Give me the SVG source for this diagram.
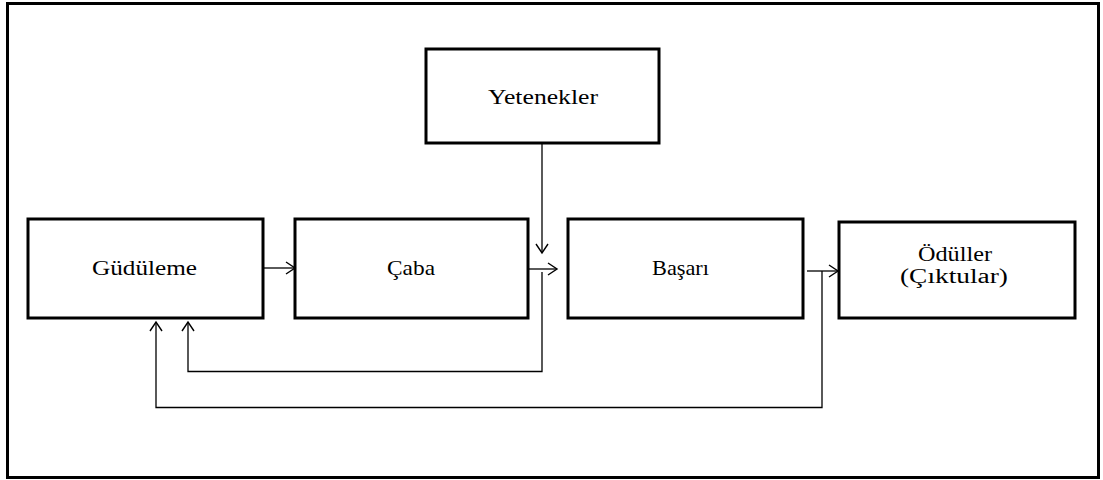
<svg xmlns="http://www.w3.org/2000/svg" width="1103" height="480" viewBox="0 0 1103 480">
<style>
.box{fill:#fff;stroke:#000;stroke-width:3}
.ln{fill:none;stroke:#000;stroke-width:1.3}
.t{font-family:"Liberation Serif","Times New Roman",serif;font-size:22px;fill:#000;text-anchor:middle}
.t2{font-size:20px}
</style>
<defs>
<marker id="ah" markerUnits="userSpaceOnUse" markerWidth="12" markerHeight="14" refX="10" refY="7" orient="auto">
<path d="M1,1 L10,7 L1,13" fill="none" stroke="#000" stroke-width="1.4"/>
</marker>
</defs>
<rect x="0" y="0" width="1103" height="480" fill="#fff"/>
<rect x="7.5" y="3.5" width="1091" height="474" fill="none" stroke="#000" stroke-width="3"/>
<g id="yetenekler"><rect class="box" x="426" y="49" width="233" height="94"/><text class="t" x="543" y="104" textLength="110" lengthAdjust="spacingAndGlyphs">Yetenekler</text></g>
<g id="gudulem"><rect class="box" x="28" y="219" width="235" height="99"/><text class="t" x="144.5" y="275" textLength="105" lengthAdjust="spacingAndGlyphs">Güdüleme</text></g>
<g id="caba"><rect class="box" x="295" y="219" width="233" height="99"/><text class="t" x="411" y="275" textLength="48" lengthAdjust="spacingAndGlyphs">Çaba</text></g>
<g id="basari"><rect class="box" x="568" y="219" width="235" height="99"/><text class="t" x="680.5" y="275" textLength="57" lengthAdjust="spacingAndGlyphs">Başarı</text></g>
<g id="oduller"><rect class="box" x="839" y="222" width="236" height="96"/><text class="t t2" x="955" y="261" textLength="74" lengthAdjust="spacingAndGlyphs">Ödüller</text><text class="t t2" x="954" y="283" textLength="108" lengthAdjust="spacingAndGlyphs">(Çıktular)</text></g>
<g id="connectors">
<path class="ln" d="M263,268 H295" marker-end="url(#ah)"/>
<path class="ln" d="M528,269 H557" marker-end="url(#ah)"/>
<path class="ln" d="M542,144 V253" marker-end="url(#ah)"/>
<path class="ln" d="M807,271 H838" marker-end="url(#ah)"/>
<path class="ln" d="M542,272 V371.5 H188 V322" marker-end="url(#ah)"/>
<path class="ln" d="M822,271 V407.5 H156 V322" marker-end="url(#ah)"/>
</g>
</svg>
